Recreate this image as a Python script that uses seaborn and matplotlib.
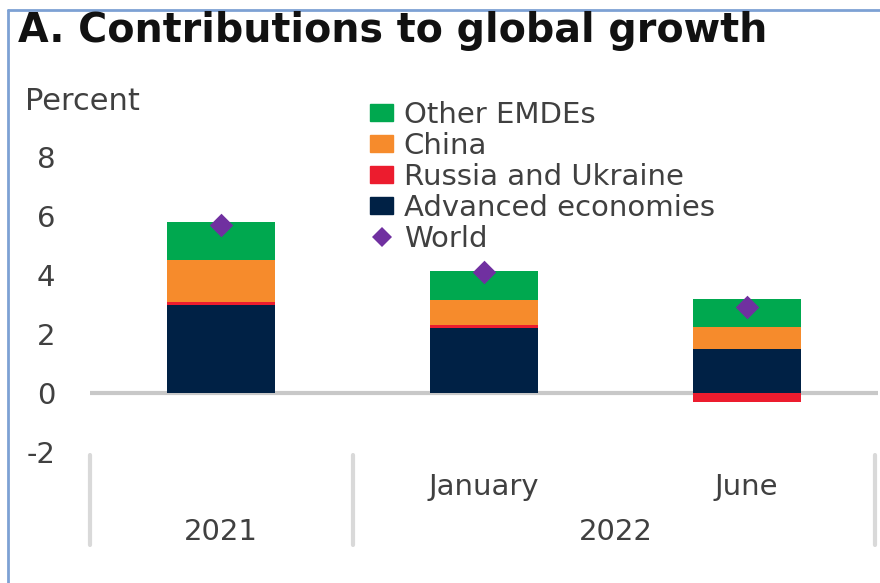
import matplotlib
matplotlib.use('agg')

import numpy as np
import seaborn as sns
import matplotlib.pyplot as plt
from matplotlib.patches import Patch
from matplotlib.lines import Line2D


sns.set_style('white')
plt.rcParams['font.family'] = ['DejaVu Sans']
plt.rcParams['axes.unicode_minus'] = False

# data
categories = ['2021', 'January', 'June']
years = ['2021', '2022']
advanced = [3.0, 2.2, 1.5]
russia_ukraine = [0.1, 0.1, -0.3]
china = [1.4, 0.85, 0.75]
other_emdes = [1.3, 1.0, 0.95]
world = [5.7, 4.1, 2.9]

green = '#00a84f'
orange = '#f68b2c'
red = '#ec1c2e'
navy = '#002145'
purple = '#7030a0'
text_col = '#404040'

fig = plt.figure(figsize=(8.8, 5.83), dpi=100)
ax = fig.add_axes([90 / 880, 1 - 452 / 583, 788 / 880, 354 / 583])

# stack positives upward, negatives downward from zero
series = [advanced, russia_ukraine, china, other_emdes]
colors = [navy, red, orange, green]
pos_base = np.zeros(len(categories))
neg_base = np.zeros(len(categories))
for vals, col in zip(series, colors):
    vals = np.array(vals)
    bottoms = np.where(vals >= 0, pos_base, neg_base)
    sns.barplot(x=categories, y=vals, bottom=bottoms, color=col, width=0.41,
                errorbar=None, linewidth=0, saturation=1, ax=ax, order=categories)
    pos_base = pos_base + np.clip(vals, 0, None)
    neg_base = neg_base + np.clip(vals, None, 0)

sns.stripplot(x=categories, y=world, jitter=False, marker='D', size=12,
              color=purple, linewidth=0, ax=ax, zorder=5, order=categories)

ax.axhline(0, color='#c8c8c8', lw=3, zorder=0.5)
ax.set_xlim(-0.5, 2.5)
ax.set_ylim(-2, 10)
ax.set_yticks(range(-2, 9, 2))
ax.tick_params(axis='y', length=0, pad=25, labelsize=21, labelcolor=text_col)
ax.set_xticks([])
ax.set_xlabel('')
ax.set_ylabel('')
sns.despine(top=True, bottom=True, left=True, right=True)

# category labels below the axis
xt = ax.get_xaxis_transform()
ax.text(1, -0.1, 'January', transform=xt, ha='center', va='center',
        fontsize=21, color=text_col)
ax.text(2, -0.1, 'June', transform=xt, ha='center', va='center',
        fontsize=21, color=text_col)
ax.text(0, -0.226, years[0], transform=xt, ha='center', va='center',
        fontsize=21, color=text_col)
ax.text(1.5, -0.226, years[1], transform=xt, ha='center', va='center',
        fontsize=21, color=text_col)
for xs in [-0.5, 0.5, 2.49]:
    ax.plot([xs, xs], [-0.0085, -0.263], transform=xt, color='#d9d9d9', lw=3,
            clip_on=False)

fig.text(25 / 880, 1 - 102 / 583, 'Percent', ha='left', va='center',
         fontsize=22, color=text_col)
fig.text(18 / 880, 1 - 42 / 583, 'A. Contributions to global growth',
         ha='left', va='baseline', fontsize=28.5, fontweight='bold', color='#111111')

handles = [Patch(color=green), Patch(color=orange), Patch(color=red), Patch(color=navy),
           Line2D([], [], marker='D', ls='', color=purple, markersize=10, markeredgewidth=0)]
labels = ['Other EMDEs', 'China', 'Russia and Ukraine', 'Advanced economies', 'World']
leg = fig.legend(handles, labels, loc='upper left', bbox_to_anchor=(370 / 880, 1 - 101 / 583),
                 frameon=False, fontsize=21, labelspacing=0.1, handlelength=0.8,
                 handleheight=0.52, handletextpad=0.35, borderpad=0, borderaxespad=0,
                 labelcolor=text_col)

# blue frame on top and left, as in the cropped source
fig.add_artist(Line2D([8 / 880, 1], [1 - 10 / 583, 1 - 10 / 583], color='#7da1d4', lw=2))
fig.add_artist(Line2D([8 / 880, 8 / 880], [0, 1 - 10 / 583], color='#7da1d4', lw=2))

fig.savefig('out.png', dpi=100)
